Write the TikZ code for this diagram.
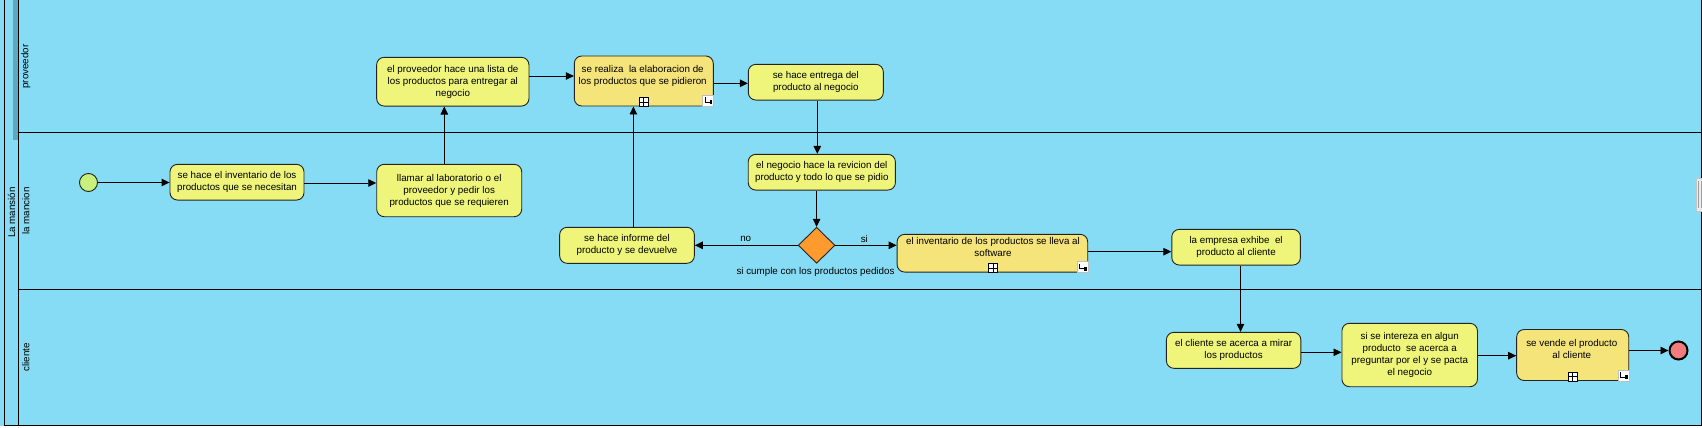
\documentclass[tikz,border=0pt]{standalone}
\usepackage{fontspec}
\setmainfont{Liberation Sans}
\usetikzlibrary{arrows.meta,shapes.geometric}
\definecolor{bg}{RGB}{135,220,245}
\definecolor{taskc}{RGB}{238,245,122}
\definecolor{subc}{RGB}{245,228,122}
\definecolor{stripc}{RGB}{95,168,190}
\definecolor{gwc}{RGB}{255,154,46}
\definecolor{startc}{RGB}{200,240,122}
\definecolor{endc}{RGB}{242,124,124}
\definecolor{edge}{RGB}{35,35,35}
\newcommand{\subMk}[1]{\begin{scope}[shift={(#1)}]\draw[fill=white,line width=0.8pt] (-4.5,-9) rectangle (4.5,0); \draw[line width=0.8pt] (0,-9) -- (0,0) (-4.5,-4.5) -- (4.5,-4.5);\end{scope}}
\newcommand{\loopMk}[1]{\begin{scope}[shift={(#1)}]\draw[fill=white,draw=gray!50,line width=0.6pt] (-11,-11) rectangle (0,0); \draw[line width=0.9pt] (-8.5,-9) -- (-8.5,-4) -- (-3,-4); \fill (-4,-6) rectangle (-1.5,-2);\end{scope}}
\begin{document}
\begin{tikzpicture}[x=1pt,y=-1pt,
  font=\fontsize{9.8}{12}\selectfont,
  box/.style={draw=edge,line width=0.9pt,fill=taskc,rounded corners=7.5pt,inner sep=1pt,align=center},
  subbox/.style={box,fill=subc},
  arr/.style={line width=0.9pt,-{Triangle[length=8pt,width=7.5pt]}},
  lane/.style={line width=1.5pt},
  lbl/.style={inner sep=0pt}
]
\useasboundingbox (0,0) rectangle (1702,428);
\fill[bg] (0,0) rectangle (1702,428);
\fill[white] (0,426.3) rectangle (1702,428);
\fill[stripc] (12.7,0) rectangle (17.7,140);
\draw[line width=1.3pt] (4.5,0) -- (4.5,425.5) -- (1701.3,425.5) -- (1701.3,0);
\draw[line width=1.3pt] (18.2,0) -- (18.2,425.5);
\draw[lane] (18.2,132.7) -- (1701.3,132.7);
\draw[lane] (18.2,289.3) -- (1701.3,289.3);
\draw[gray!45,fill=gray!15,line width=0.6pt] (1696.4,178.3) rectangle (1702,211);
\draw[gray!75,line width=0.8pt] (1698.7,181) -- (1698.7,208);
\draw[gray!75,line width=0.8pt] (1701.1,181) -- (1701.1,208);

\node[rotate=90,lbl] (pool) at (11.5,212.5) {La mansión};
\node[rotate=90,lbl] (lane1) at (25.8,66.5) {proveedor};
\node[rotate=90,lbl] (lane2) at (25.8,211) {la mancion};
\node[rotate=90,lbl] (lane3) at (25.8,357.5) {cliente};

\node[circle,draw=edge,line width=0.9pt,fill=startc,minimum size=18pt,inner sep=0pt] (start) at (88.5,182.5) {};
\node[circle,draw=black,line width=2pt,fill=endc,minimum size=18pt,inner sep=0pt] (end) at (1678.5,350.5) {};

\node[box,minimum width=134pt,minimum height=35.7pt] (b1) at (237,182.2) {se hace el inventario de los\\productos que se necesitan};
\node[box,minimum width=145pt,minimum height=52.4pt] (b2) at (449.2,190.5) {llamar al laboratorio o el\\proveedor y pedir los\\productos que se requieren};
\node[box,minimum width=152.3pt,minimum height=48.7pt] (b3) at (452.8,81.7) {el proveedor hace una lista de\\los productos para entregar al\\negocio};
\node[subbox,minimum width=139pt,minimum height=50pt] (b4) at (643.8,81) {};
\node[lbl,align=center] (t4) at (642.7,75.7) {se realiza\ \ la elaboracion de\\los productos que se pidieron};
\node[box,minimum width=135pt,minimum height=35.7pt] (b5) at (815.8,82.2) {se hace entrega del\\producto al negocio};
\node[box,minimum width=147.2pt,minimum height=35.7pt] (b6) at (821.8,172.2) {el negocio hace la revicion del\\producto y todo lo que se pidio};
\node[diamond,draw=edge,line width=0.9pt,fill=gwc,minimum width=36.8pt,minimum height=36pt,inner sep=0pt] (gw) at (816.6,245.3) {};
\node[box,minimum width=134.7pt,minimum height=36pt] (b7) at (627,245.3) {se hace informe del\\producto y se devuelve};
\node[subbox,minimum width=190.6pt,minimum height=37.7pt] (b8) at (992.4,253.2) {};
\node[lbl,align=center] (t8) at (993,247.2) {el inventario de los productos se lleva al\\software};
\node[box,minimum width=128.6pt,minimum height=35.7pt] (b9) at (1236.1,247.2) {la empresa exhibe\ \ el\\producto al cliente};
\node[box,minimum width=134.4pt,minimum height=36pt] (b10) at (1233.6,350.3) {el cliente se acerca a mirar\\los productos};
\node[box,minimum width=135.5pt,minimum height=63.4pt] (b11) at (1409.7,355) {si se intereza en algun\\producto\ \ se acerca a\\preguntar por el y se pacta\\el negocio};
\node[subbox,minimum width=112.1pt,minimum height=51pt] (b12) at (1572.7,355) {};
\node[lbl,align=center] (t12) at (1571.8,348.8) {se vende el producto\\al cliente};

\node[lbl] (lno) at (745.7,238.5) {no};
\node[lbl] (lsi) at (864.3,238.5) {si};
\node[lbl] (lcond) at (815.5,271.5) {si cumple con los productos pedidos};

\subMk{b4.south}
\loopMk{b4.south east}
\subMk{b8.south -| t8}
\loopMk{b8.south east}
\subMk{b12.south}
\loopMk{b12.south east}

\coordinate (h1) at (0,183);
\coordinate (v1) at (444.3,0);
\coordinate (h2) at (0,76);
\coordinate (h3) at (0,83.3);
\coordinate (v2) at (817.3,0);
\coordinate (v3) at (633.4,0);
\coordinate (h4) at (0,251.7);
\coordinate (v4) at (1240.5,0);
\coordinate (h5) at (0,352.3);
\coordinate (h6) at (0,355.7);

\draw[arr] (start.east) -- (start.east -| b1.west);
\draw[arr] (b1.east |- h1) -- (b2.west |- h1);
\draw[arr] (b2.north -| v1) -- (b3.south -| v1);
\draw[arr] (b3.east |- h2) -- (b4.west |- h2);
\draw[arr] (b4.east |- h3) -- (b5.west |- h3);
\draw[arr] (b5.south -| v2) -- (b6.north -| v2);
\draw[arr] (b6.south -| gw) -- (gw.north);
\draw[arr] (gw.west) -- (b7.east);
\draw[arr] (gw.east) -- (gw.east -| b8.west);
\draw[arr] (b7.north -| v3) -- (b4.south -| v3);
\draw[arr] (b8.east |- h4) -- (b9.west |- h4);
\draw[arr] (b9.south -| v4) -- (b10.north -| v4);
\draw[arr] (b10.east |- h5) -- (b11.west |- h5);
\draw[arr] (b11.east |- h6) -- (b12.west |- h6);
\draw[arr] (b12.east |- end) -- (end.west);
\end{tikzpicture}
\end{document}
